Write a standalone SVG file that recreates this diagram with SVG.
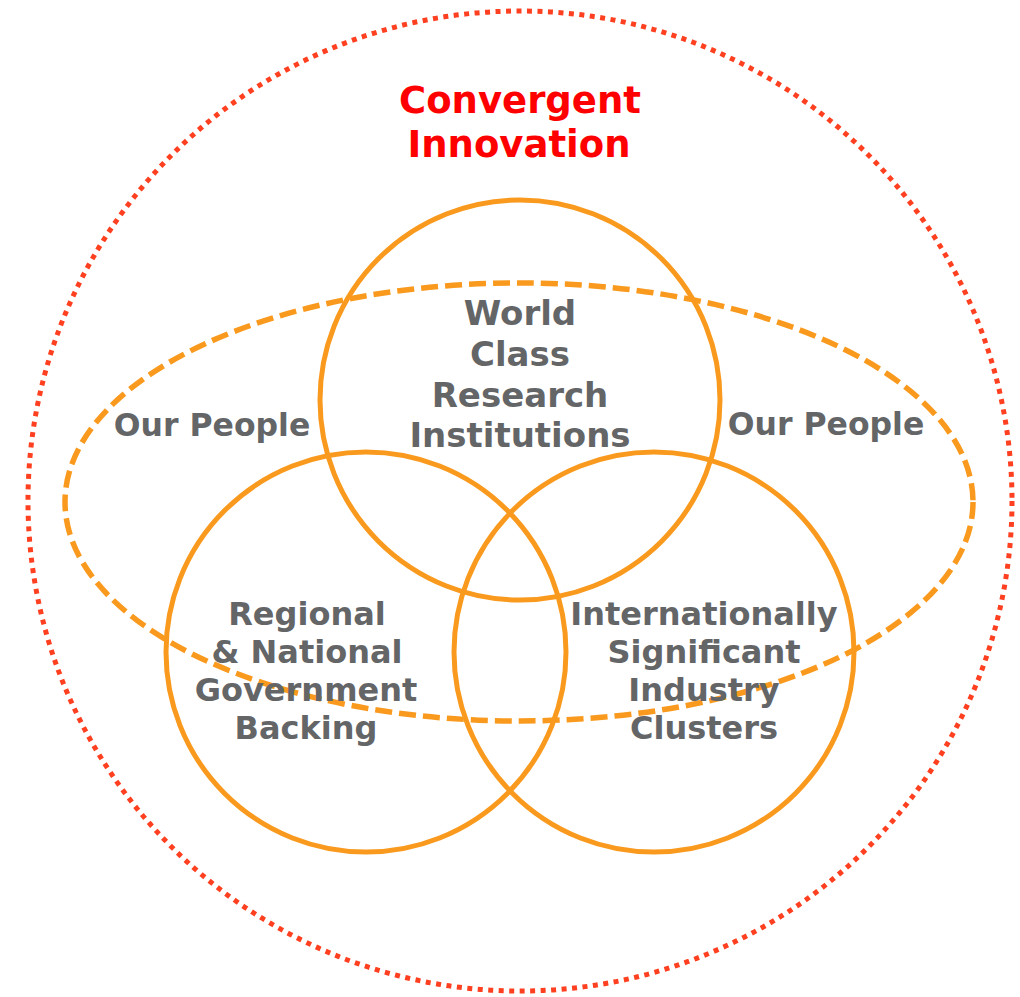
<svg xmlns="http://www.w3.org/2000/svg" width="1020" height="997" viewBox="0 0 1020 997">
<style>
.c{fill:none;stroke:#F99A1E;stroke-width:5}
.dash{fill:none;stroke:#F99A1E;stroke-width:5.5;stroke-dasharray:17 7}
.dot{fill:none;stroke:#FF4020;stroke-width:5;stroke-dasharray:5 5.5}
.t{font-family:"DejaVu Sans",Verdana,sans-serif;font-weight:bold;font-size:32px;fill:#646567;text-anchor:middle}
.tt{font-size:34px}
.tp{font-size:31.5px}
.title{font-family:"DejaVu Sans",Verdana,sans-serif;font-weight:bold;font-size:37px;fill:#FF0000;text-anchor:middle}
</style>
<rect width="1020" height="997" fill="#ffffff"/>
<g id="outer">
<ellipse class="dot" cx="520" cy="501" rx="492" ry="490"/>
<text class="title" x="520" y="113">Convergent</text>
<text class="title" x="519" y="157">Innovation</text>
</g>
<g id="people">
<ellipse class="dash" cx="519" cy="502" rx="454" ry="219"/>
<text class="t tp" x="212" y="436">Our People</text>
<text class="t tp" x="826" y="435">Our People</text>
</g>
<g id="research">
<circle class="c" cx="520" cy="400" r="200"/>
<text class="t tt" x="520" y="325">World</text>
<text class="t tt" x="520" y="366">Class</text>
<text class="t tt" x="520" y="407">Research</text>
<text class="t tt" x="520" y="447">Institutions</text>
</g>
<g id="government">
<circle class="c" cx="366" cy="652" r="200"/>
<text class="t" x="307" y="625">Regional</text>
<text class="t" x="307" y="663">&amp; National</text>
<text class="t" x="306" y="701">Government</text>
<text class="t" x="306" y="739">Backing</text>
</g>
<g id="industry">
<circle class="c" cx="654" cy="652" r="200"/>
<text class="t" x="704" y="625">Internationally</text>
<text class="t" x="704" y="663">Significant</text>
<text class="t" x="704" y="701">Industry</text>
<text class="t" x="704" y="739">Clusters</text>
</g>
<g id="connectors"></g>
</svg>
